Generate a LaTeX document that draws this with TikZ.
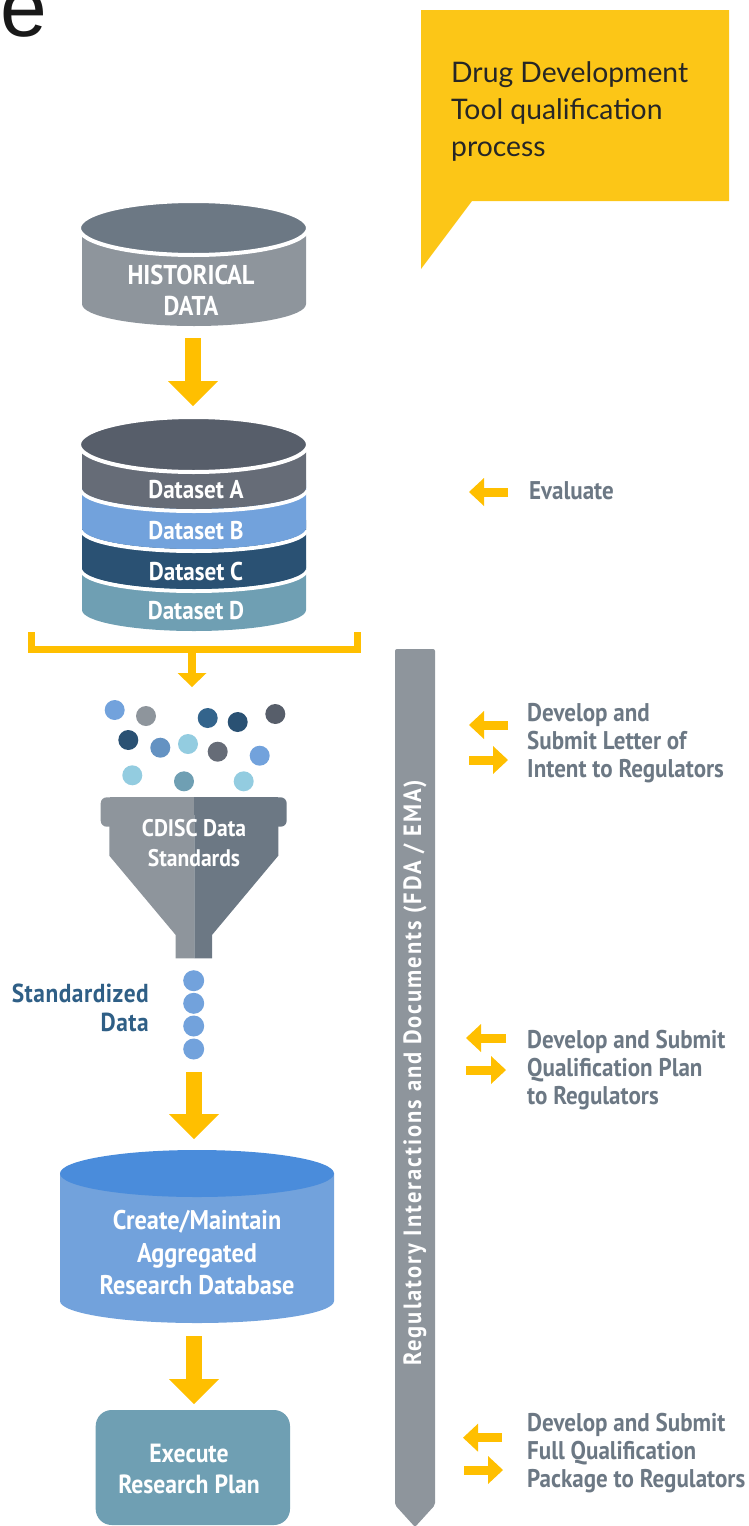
\documentclass[tikz,border=0pt]{standalone}
\usepackage{fontspec}
\setmainfont{PT Sans}[FakeStretch=0.9]
\newfontfamily\calloutfont{Lato}
\newfontfamily\bigfont{Liberation Sans}
\newfontfamily\spacedfont{PT Sans}[FakeStretch=0.9,LetterSpace=8]
\newfontfamily\tightspaced{PT Sans}[FakeStretch=0.9,LetterSpace=2]
\usetikzlibrary{arrows.meta}
\definecolor{cYellow}{HTML}{FFBF00}
\definecolor{cCallout}{HTML}{FCC617}
\definecolor{cGray}{HTML}{8E959C}
\definecolor{cSlate}{HTML}{6C7884}
\definecolor{cDark}{HTML}{575E6A}
\definecolor{cA}{HTML}{666C77}
\definecolor{cB}{HTML}{72A2DC}
\definecolor{cC}{HTML}{2A5173}
\definecolor{cD}{HTML}{6F9FB3}
\definecolor{cMid}{HTML}{33648C}
\definecolor{cSteel}{HTML}{6492C2}
\definecolor{cSky}{HTML}{93CCE0}
\definecolor{cDbTop}{HTML}{4A8CDB}
\definecolor{cStd}{HTML}{2F5F86}
\tikzset{
  lab/.style={inner sep=0pt,font=\fontsize{#1}{#1}\selectfont\bfseries,text=white,align=center},
  sidelab/.style={inner sep=0pt,anchor=west,font=\fontsize{25.6}{28}\selectfont\bfseries,text=cSlate},
  stdlab/.style={inner sep=0pt,anchor=east,font=\fontsize{26}{26}\tightspaced\bfseries,text=cStd},
  bigarrow/.style={draw=cYellow,line width=16pt,-{Triangle[length=25pt,width=50pt,line width=0pt]}},
  smallarrow/.style={draw=cYellow,line width=9pt,-{Triangle[length=15pt,width=28pt,line width=0pt]}},
  midarrow/.style={draw=cYellow,line width=8.5pt,-{Triangle[length=14pt,width=29pt,line width=0pt]}},
  dot/.style={circle,inner sep=0pt,minimum size=20pt,fill=#1},
  dotb/.style={circle,inner sep=0pt,minimum size=21pt,fill=cB},
}
% layer: colour, top y, side y
\newcommand{\stacklayer}[3]{%
  \fill[#1] (82,#2) -- (82,#3) arc[start angle=180,end angle=360,x radius=112pt,y radius=21pt] -- (306,#2) -- cycle;
}
\newcommand{\stackline}[1]{%
  \draw[white,line width=4pt] (82,#1+2) arc[start angle=180,end angle=360,x radius=112pt,y radius=21pt];
}
\begin{document}
\begin{tikzpicture}[x=1pt,y=-1pt]
\useasboundingbox (0,0) rectangle (749,1526);
% corner letter
\begin{scope}
\clip (0,0) rectangle (749,1526);
\node[inner sep=0pt,anchor=base west,font=\fontsize{84}{84}\bigfont,text=black!90] (corner) at (0,36) {e};
\end{scope}
% callout
\fill[cCallout] (421,10) -- (729,10) -- (729,201) -- (472,201) -- (421,269) -- cycle;
\node[inner sep=0pt,anchor=west,font=\fontsize{28.3}{37}\calloutfont,text=black!85,align=left] (callout) at (451,112) {Drug Development\\Tool qualification\\process};
% historical data
\fill[cGray] (82,228) -- (82,304) arc[start angle=180,end angle=360,x radius=112pt,y radius=22pt] -- (306,228) -- cycle;
\draw[white,line width=4pt,fill=cSlate] (193.5,228) ellipse[x radius=114.5pt,y radius=27pt];
\node[lab=27.2] (hist) at (191,275) {HISTORICAL};
\node[lab=27.2] (histb) at (191,306) {DATA};
\coordinate (a1s) at (193,338);
\coordinate (a1e) at (193,406);
\draw[bigarrow] (a1s) -- (a1e);
% stack
\stacklayer{cD}{560}{610}
\stackline{568}
\stacklayer{cC}{520}{568}
\stackline{528}
\stacklayer{cB}{480}{528}
\stackline{488}
\stacklayer{cA}{444}{488}
\draw[white,line width=4pt,fill=cDark] (193.5,444.5) ellipse[x radius=114.5pt,y radius=27.5pt];
\node[lab=25.7] (dsa) at (196,490) {Dataset A};
\node[lab=25.7] (dsb) at (196,531) {Dataset B};
\node[lab=25.7] (dsc) at (196,571) {Dataset C};
\node[lab=25.7] (dsd) at (196,611) {Dataset D};
% bracket
\coordinate (brl) at (31,632);
\coordinate (brlc) at (31,649.5);
\coordinate (brrc) at (357,649.5);
\coordinate (brr) at (357,632);
\draw[cYellow,line width=7pt] (brl) -- (brlc) -- (brrc) -- (brr);
\coordinate (a2s) at (192,649);
\coordinate (a2e) at (192,687);
\draw[midarrow] (a2s) -- (a2e);
% dots
\node[dot=cB] (d1) at (114.7,710) {};
\node[dot=cGray] (d2) at (146,716) {};
\node[dot=cMid] (d3) at (207.7,718) {};
\node[dot=cC] (d4) at (237.7,722) {};
\node[dot=cDark] (d5) at (275.3,714) {};
\node[dot=cC] (d6) at (128.3,740) {};
\node[dot=cSteel] (d7) at (160.3,747.7) {};
\node[dot=cSky] (d8) at (188,744) {};
\node[dot=cA] (d9) at (217.7,751.7) {};
\node[dot=cB] (d10) at (259.7,755.7) {};
\node[dot=cSky] (d11) at (132.3,775.3) {};
\node[dot=cD] (d12) at (184,781.3) {};
\node[dot=cSky] (d13) at (243.7,781.3) {};
% funnel
\fill[cGray,rounded corners=6pt] (194.3,797.3) -- (100.7,797.3) -- (100.7,826.7) -- (194.3,826.7) -- cycle;
\fill[cSlate,rounded corners=6pt] (194.3,797.3) -- (286.7,797.3) -- (286.7,826.7) -- (194.3,826.7) -- cycle;
\fill[cGray] (194.3,820) -- (109.3,820) -- (109.3,855.7) -- (175.7,935) -- (175.7,958.3) -- (194.3,958.3) -- cycle;
\fill[cSlate] (194.3,820) -- (278.3,820) -- (278.3,855.7) -- (212,935) -- (212,958.3) -- (194.3,958.3) -- cycle;
\fill[cGray] (110,797.3) rectangle (194.3,815);
\fill[cSlate] (194.3,797.3) rectangle (278,815);
\node[lab=24] (cdisc) at (194,828) {CDISC Data};
\node[lab=24] (cdiscb) at (194,858) {Standards};
% standardized dots
\node[dotb] (s1) at (193.7,980.7) {};
\node[dotb] (s2) at (193.7,1003.3) {};
\node[dotb] (s3) at (193.7,1026) {};
\node[dotb] (s4) at (193.7,1049) {};
\node[stdlab] (sd1) at (149,993) {Standardized};
\node[stdlab] (sd2) at (149,1022) {Data};
\coordinate (a3s) at (194,1072);
\coordinate (a3e) at (194,1139);
\draw[bigarrow] (a3s) -- (a3e);
% database
\fill[cB] (60,1173) -- (60,1301) arc[start angle=180,end angle=360,x radius=137pt,y radius=22pt] -- (334,1173) -- cycle;
\fill[cDbTop] (197,1173.5) ellipse[x radius=137pt,y radius=23.5pt];
\node[lab=27] (db1) at (197,1222) {Create/Maintain};
\node[lab=27] (db2) at (197,1256) {Aggregated};
\node[lab=27] (db3) at (197,1285) {Research Database};
\coordinate (a4s) at (194,1336);
\coordinate (a4e) at (194,1404);
\draw[bigarrow] (a4s) -- (a4e);
% execute
\fill[cD,rounded corners=16pt] (95.7,1410) rectangle (290,1525);
\node[lab=26.3] (ex1) at (189,1453) {Execute};
\node[lab=26.3] (ex2) at (189,1484) {Research Plan};
% vertical bar
\fill[cGray,rounded corners=2pt] (395,649) -- (435,649) -- (435,1505) -- (415,1527) -- (395,1505) -- cycle;
\node[inner sep=0pt,rotate=90,font=\fontsize{25}{25}\spacedfont\bfseries,text=white] (reg) at (415,1073) {Regulatory Interactions and Documents (FDA / EMA)};
% side labels
\coordinate (e1s) at (508,492); \coordinate (e1e) at (469,492);
\draw[smallarrow] (e1s) -- (e1e);
\node[sidelab] (ev) at (529,491) {Evaluate};
\coordinate (l1s) at (508,725); \coordinate (l1e) at (469,725);
\coordinate (l2s) at (469,760); \coordinate (l2e) at (508,760);
\draw[smallarrow] (l1s) -- (l1e);
\draw[smallarrow] (l2s) -- (l2e);
\node[sidelab,align=left] (loi) at (527,743) {Develop and\\Submit Letter of\\Intent to Regulators};
\coordinate (q1s) at (506,1038); \coordinate (q1e) at (466,1038);
\coordinate (q2s) at (466,1070); \coordinate (q2e) at (506,1070);
\draw[smallarrow] (q1s) -- (q1e);
\draw[smallarrow] (q2s) -- (q2e);
\node[sidelab,align=left] (qp) at (527,1070) {Develop and Submit\\Qualification Plan\\to Regulators};
\coordinate (f1s) at (502,1437.7); \coordinate (f1e) at (463,1437.7);
\coordinate (f2s) at (464,1470); \coordinate (f2e) at (503,1470);
\draw[smallarrow] (f1s) -- (f1e);
\draw[smallarrow] (f2s) -- (f2e);
\node[sidelab,align=left] (fq) at (527,1453) {Develop and Submit\\Full Qualification\\Package to Regulators};
\end{tikzpicture}
\end{document}
